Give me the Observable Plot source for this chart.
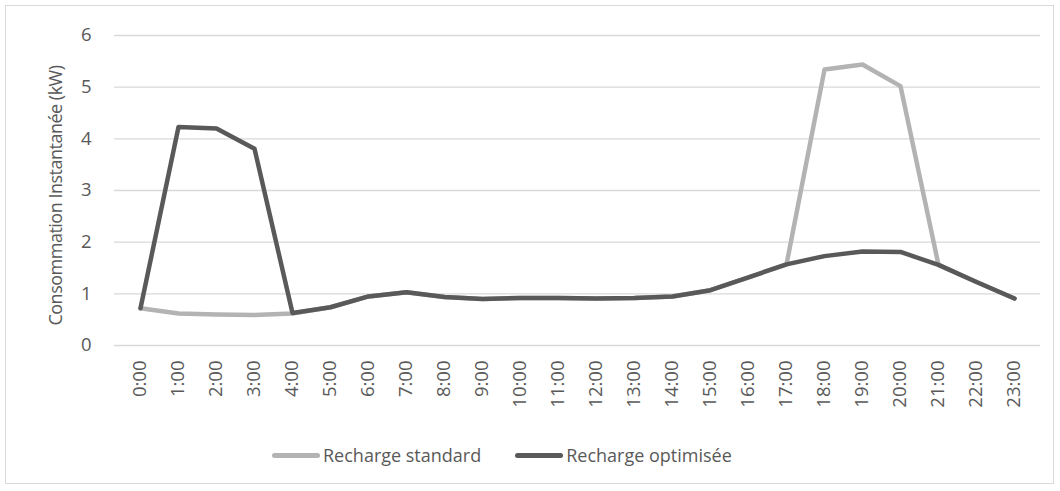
<!DOCTYPE html>
<html>
<head>
<meta charset="utf-8">
<script src="https://cdn.jsdelivr.net/npm/d3@7"></script>
<script src="https://cdn.jsdelivr.net/npm/@observablehq/plot@0.6"></script>
<style>
  html, body { margin: 0; padding: 0; background: #fff; }
  body { width: 1060px; height: 491px; position: relative; overflow: hidden; font-family: "Open Sans", sans-serif; }
  #frame { position: absolute; left: 5px; top: 5px; width: 1049px; height: 479px; border: 1px solid #d9d9d9; box-sizing: border-box; }
  #chart { position: absolute; left: 0; top: 0; }
  #chart svg g[aria-label="y-axis tick label"] { font-size: 18.5px; }
  #chart svg g[aria-label="x-axis tick label"] { font-size: 18.5px; }
  #chart svg g[aria-label="text"] { font-size: 18px; letter-spacing: -0.5px; }
  #legend { position: absolute; left: 272px; top: 442px; height: 26px; display: flex; align-items: center; gap: 34px; font-size: 18px; color: #595959; white-space: nowrap; }
  .item { display: flex; align-items: center; }
  .sw { width: 48px; height: 5px; border-radius: 3px; margin-right: 3px; }
</style>
</head>
<body>
<div id="frame"></div>
<div id="chart"></div>
<div id="legend"></div>
<script>
// Hourly charging load profile (kW)
const hours = ["0:00","1:00","2:00","3:00","4:00","5:00","6:00","7:00","8:00","9:00","10:00","11:00",
               "12:00","13:00","14:00","15:00","16:00","17:00","18:00","19:00","20:00","21:00","22:00","23:00"];
const standard = [0.72,0.62,0.60,0.59,0.62,0.74,0.95,1.03,0.94,0.90,0.92,0.92,
                  0.91,0.92,0.95,1.07,1.32,1.57,5.34,5.44,5.02,1.56,1.23,0.91];
const optimisee = [0.72,4.23,4.20,3.81,0.63,0.74,0.95,1.03,0.94,0.90,0.92,0.92,
                   0.91,0.92,0.95,1.07,1.32,1.57,1.73,1.82,1.81,1.56,1.23,0.91];
const seriesNames = ["Recharge standard", "Recharge optimisée"];
const seriesColors = ["#b3b3b3", "#595959"];
const yTicks = [0, 1, 2, 3, 4, 5, 6];
const yTitle = "Consommation Instantanée (kW)";

const rows = [
  ...hours.map((h, i) => ({hour: h, value: standard[i], series: seriesNames[0]})),
  ...hours.map((h, i) => ({hour: h, value: optimisee[i], series: seriesNames[1]}))
];

const chart = Plot.plot({
  width: 1060,
  height: 430,
  marginLeft: 114,
  marginRight: 20,
  marginTop: 35,
  marginBottom: 85,
  style: {fontFamily: "'Open Sans', sans-serif", color: "#595959", background: "transparent"},
  x: {type: "point", domain: hours, padding: 0.5},
  y: {domain: [0, 6]},
  color: {domain: seriesNames, range: seriesColors},
  marks: [
    Plot.gridY(yTicks, {stroke: "#d9d9d9", strokeOpacity: 1, strokeWidth: 1.3}),
    Plot.axisY(yTicks, {tickSize: 0, tickPadding: 23, label: null, tickFormat: d => String(d)}),
    Plot.axisX({tickSize: 0, tickRotate: -90, tickPadding: 15, label: null}),
    Plot.text([yTitle], {frameAnchor: "left", rotate: -90, textAnchor: "middle", dx: -58, dy: 5, fill: "#595959"}),
    Plot.lineY(rows, {x: "hour", y: "value", z: "series", stroke: "series",
      strokeWidth: 4.5, strokeLinejoin: "round", strokeLinecap: "round"})
  ]
});
document.getElementById("chart").appendChild(chart);

// Legend
const legend = document.getElementById("legend");
seriesNames.forEach((name, i) => {
  const item = document.createElement("div");
  item.className = "item";
  const sw = document.createElement("span");
  sw.className = "sw";
  sw.style.background = seriesColors[i];
  const label = document.createElement("span");
  label.textContent = name;
  item.appendChild(sw);
  item.appendChild(label);
  legend.appendChild(item);
});
</script>
</body>
</html>
